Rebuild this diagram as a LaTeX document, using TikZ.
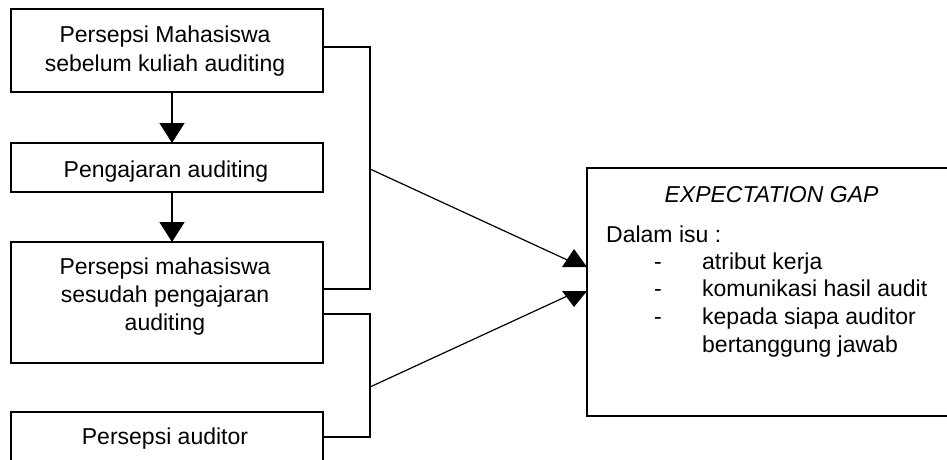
\documentclass[tikz,border=0pt]{standalone}
\usepackage{fontspec}
\setmainfont{Liberation Sans}
\usetikzlibrary{arrows.meta,calc}

\begin{document}
\begin{tikzpicture}[x=1pt,y=-1pt,
  every node/.style={font=\fontsize{23}{28}\selectfont},
  box/.style={draw, line width=1.5pt, inner sep=0pt, outer sep=0pt, minimum width=312pt},
  txt/.style={inner sep=0pt, anchor=base},
  txtw/.style={inner sep=0pt, anchor=base west},
  flow/.style={line width=1.4pt, -{Triangle[width=25pt,length=20pt]}},
  link/.style={line width=1.2pt},
  headfill/.style={fill=black}]

  % canvas
  \useasboundingbox (0,0) rectangle (947,460);
  \clip (0,0) rectangle (947,460);
  \fill[white] (0,0) rectangle (947,460);

  % left column of boxes
  \node[box, minimum height=83pt]  (pre)   at (167,50.5)  {};
  \node[box, minimum height=49pt]  (ajar)  at (167,167.5) {};
  \node[box, minimum height=121pt] (post)  at (167,302.5) {};
  \node[box, minimum height=80pt]  (aud)   at (167,452)   {};

  % result box on the right
  \node[draw, line width=1.5pt, inner sep=0pt, outer sep=0pt,
        minimum width=369pt, minimum height=248pt] (gap) at (771.5,292) {};

  % box texts
  \node[txt] (pre1)  at (165,42)  {Persepsi Mahasiswa};
  \node[txt] (pre2)  at (165,71)  {sebelum kuliah auditing};
  \node[txt] (ajar1) at (166,177) {Pengajaran auditing};
  \node[txt] (post1) at (165,274) {Persepsi mahasiswa};
  \node[txt] (post2) at (165,302) {sesudah pengajaran};
  \node[txt] (post3) at (165,330) {auditing};
  \node[txt] (aud1)  at (165,444) {Persepsi auditor};

  \node[txt]  (gapt) at (771.5,202) {\itshape EXPECTATION GAP};
  \node[txtw] (isu)  at (606,242)   {Dalam isu :};
  \node[txtw] (d1)   at (654,269)   {-};
  \node[txtw] (d2)   at (654,296.5) {-};
  \node[txtw] (d3)   at (654,324.5) {-};
  \node[txtw] (i1)   at (702,269)   {atribut kerja};
  \node[txtw] (i2)   at (702,296.5) {komunikasi hasil audit};
  \node[txtw] (i3)   at (702,324.5) {kepada siapa auditor};
  \node[txtw] (i4)   at (702,352)   {bertanggung jawab};

  % sequence arrows
  \draw[flow] ([xshift=5pt]pre.south)  -- ([xshift=5pt]ajar.north);
  \draw[flow] ([xshift=5pt]ajar.south) -- ([xshift=5pt]post.north);

  % brackets joining the perceptions
  \coordinate (j1) at (370,169);
  \coordinate (j2) at (370,387);
  \draw[link] ([yshift=3.5pt]pre.east) -| (j1) |- ([yshift=13.5pt]post.east);
  \draw[link] ([yshift=-11.5pt]post.east) -| (j2) |- ([yshift=15pt]aud.east);

  % links into the gap box
  \coordinate (inA) at (576,264);
  \coordinate (inB) at (576,292);
  \draw[link] (j1) -- (inA);
  \draw[link] (j2) -- (inB);
  \fill[headfill] ($(gap.west)+(-25,-25)$) -- ($(gap.west)+(0,-25)$) -- ($(gap.west)+(-13,-43)$) -- cycle;
  \fill[headfill] ($(gap.west)+(-25,-1)$) -- ($(gap.west)+(0,-1)$) -- ($(gap.west)+(-13,15)$) -- cycle;
\end{tikzpicture}
\end{document}
